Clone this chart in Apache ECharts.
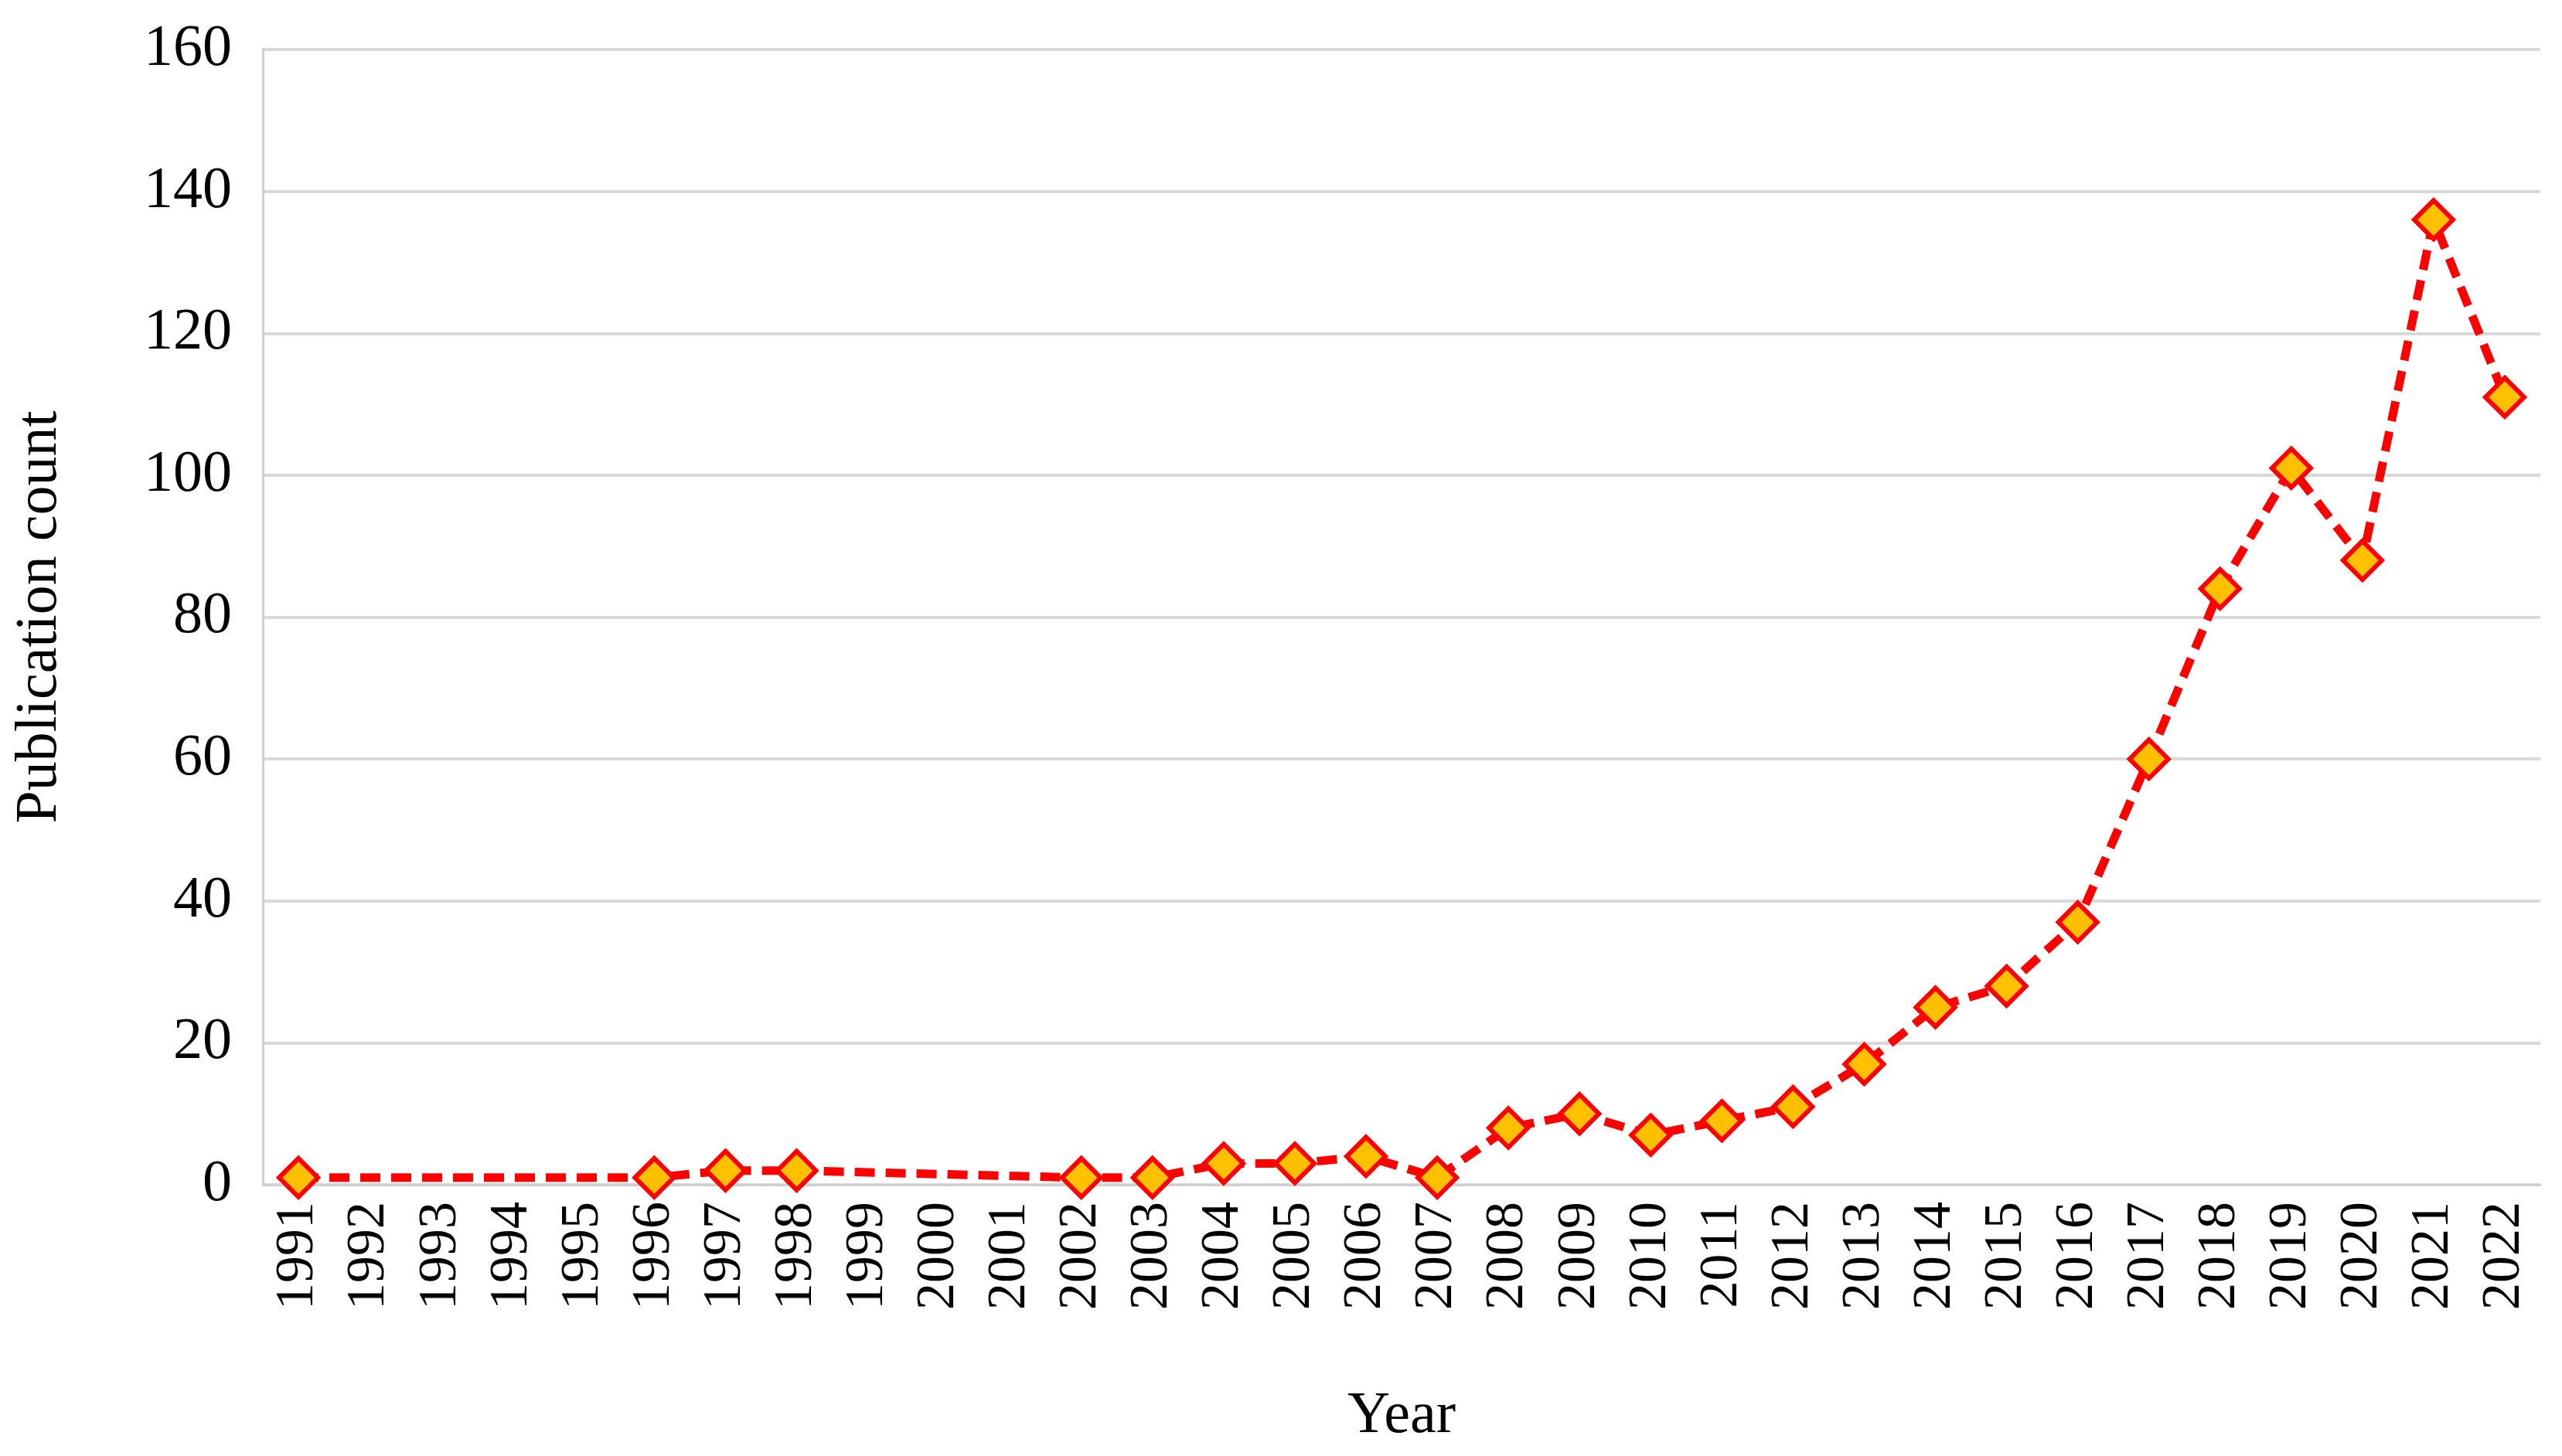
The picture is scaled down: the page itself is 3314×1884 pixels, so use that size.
<!DOCTYPE html>
<html>
<head>
<meta charset="utf-8">
<script src="https://cdn.jsdelivr.net/npm/echarts@6/dist/echarts.min.js"></script>
<style>html,body{margin:0;padding:0;background:#fff}#chart{width:3314px;height:1884px}</style>
</head>
<body>
<div id="chart"></div>
<script>
// years on the category axis
var years = [];
for (var y = 1991; y <= 2022; y++) years.push(String(y));

// publication counts, null where the source has no marker
var counts = [1, null, null, null, null, 1, 2, 2, null, null, null, 1, 1, 3, 3, 4, 1, 8, 10, 7,
              9, 11, 17, 25, 28, 37, 60, 84, 101, 88, 136, 111];

var yTicks = [0, 20, 40, 60, 80, 100, 120, 140, 160];

var font = 'Liberation Serif';
var chart = echarts.init(document.getElementById('chart'));
chart.setOption({
    animation: false,
    grid: { left: 340, right: 28, top: 64, bottom: 351 },
    xAxis: {
        type: 'category',
        data: years,
        boundaryGap: true,
        name: 'Year',
        nameLocation: 'middle',
        nameGap: 262,
        nameTextStyle: { fontFamily: font, fontSize: 76, color: '#000' },
        axisLine: { lineStyle: { color: '#d0d0d0', width: 3 } },
        axisTick: { show: false },
        axisLabel: { rotate: 90, interval: 0, fontFamily: font, fontSize: 70, color: '#000', margin: 22 }
    },
    yAxis: {
        type: 'value',
        min: yTicks[0],
        max: yTicks[yTicks.length - 1],
        interval: 20,
        name: 'Publication count',
        nameLocation: 'middle',
        nameGap: 250,
        nameTextStyle: { fontFamily: font, fontSize: 76, color: '#000' },
        axisLine: { show: true, lineStyle: { color: '#d0d0d0', width: 3 } },
        axisTick: { show: false },
        axisLabel: { fontFamily: font, fontSize: 76, color: '#000', margin: 40 },
        splitLine: { lineStyle: { color: '#d9d9d9', width: 4 } }
    },
    series: [{
        type: 'line',
        data: counts,
        connectNulls: true,
        symbol: 'diamond',
        symbolSize: 50,
        lineStyle: { color: '#ff0000', width: 11, type: [26, 14] },
        itemStyle: { color: '#ffc000', borderColor: '#ff0000', borderWidth: 6 }
    }]
});
</script>
</body>
</html>
